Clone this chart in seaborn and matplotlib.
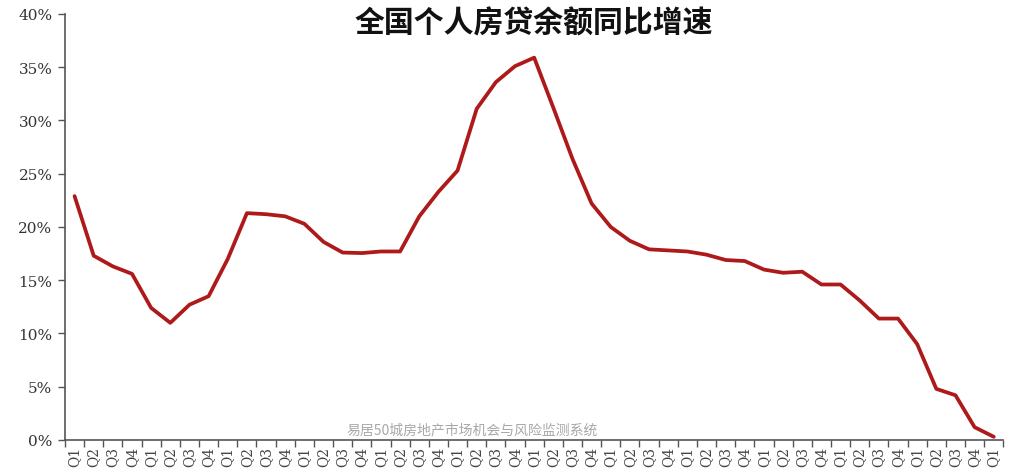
import numpy as np
import pandas as pd
import matplotlib
matplotlib.use("Agg")
import matplotlib.pyplot as plt
import seaborn as sns
from matplotlib.ticker import FixedLocator, PercentFormatter

# quarter labels, 2011Q1 .. 2023Q1
quarters = ["Q1", "Q2", "Q3", "Q4"] * 12 + ["Q1"]

# yoy growth of personal housing loan balance (%)
growth = [22.9, 17.3, 16.3, 15.6, 12.4, 11.0, 12.7, 13.5,
          17.0, 21.3, 21.2, 21.0, 20.3, 18.6, 17.6, 17.55,
          17.7, 17.7, 21.0, 23.3, 25.3, 31.1, 33.6, 35.1,
          35.9, 31.2, 26.4, 22.2, 20.0, 18.7, 17.9, 17.8,
          17.7, 17.4, 16.9, 16.8, 16.0, 15.7, 15.8, 14.6,
          14.6, 13.1, 11.4, 11.4, 9.0, 4.8, 4.2, 1.2, 0.3]

df = pd.DataFrame({"idx": range(len(growth)), "q": quarters, "v": growth})

sns.set_style("ticks")
plt.rcParams["font.family"] = ["Noto Sans CJK SC", "DejaVu Sans"]

fig = plt.figure(figsize=(10.09, 4.77), dpi=100)
ax = fig.add_axes([0.0644, 0.0755, 0.93, 0.8931])

sns.lineplot(data=df, x="idx", y="v", ax=ax, color="#AE1A1A", linewidth=2.7,
             solid_joinstyle="round", solid_capstyle="round")

ax.set_xlim(-0.5, len(growth) - 0.5)
ax.set_ylim(0, 40)
ax.set_yticks(range(0, 41, 5))
ax.yaxis.set_major_formatter(PercentFormatter(decimals=0))

ax.set_xticks(df["idx"])
ax.set_xticklabels(df["q"], rotation=90, fontsize=10, color="#444444",
                   family=["DejaVu Serif"])
ax.xaxis.set_minor_locator(FixedLocator(np.arange(-0.5, len(growth), 1)))
ax.tick_params(axis="x", which="major", length=0, pad=4)
ax.tick_params(axis="x", which="minor", length=5, width=1, color="#555555")
ax.tick_params(axis="y", length=5, width=1, color="#555555",
               labelsize=11, labelcolor="#333333", pad=4)
for lbl in ax.get_yticklabels():
    lbl.set_family(["DejaVu Serif"])

ax.set_xlabel("")
ax.set_ylabel("")
sns.despine(ax=ax)
for s in ("left", "bottom"):
    ax.spines[s].set_color("#555555")
    ax.spines[s].set_linewidth(1.2)

ax.set_title("全国个人房贷余额同比增速", fontsize=21.5, fontweight="bold",
             color="#111111", pad=-2, y=0.965)

ax.text(0.434, 0.026, "易居50城房地产市场机会与风险监测系统", transform=ax.transAxes,
        ha="center", va="center", fontsize=10, color="#A8A8A8")

fig.savefig("out.png", dpi=100)
